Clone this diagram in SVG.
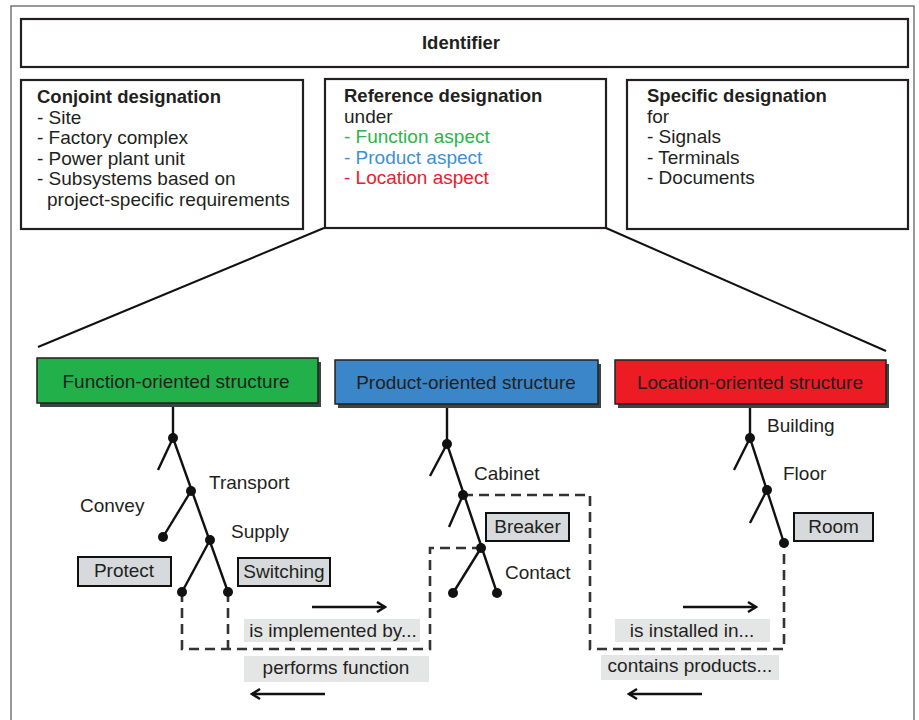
<svg xmlns="http://www.w3.org/2000/svg" width="919" height="720" viewBox="0 0 919 720">
<style>
text{font-family:"Liberation Sans",Arial,sans-serif;font-size:19px;fill:#231f20}
.b{font-weight:bold;font-size:18.5px}
.box{fill:#fff;stroke:#231f20;stroke-width:2.2}
.sb{stroke:#231f20;stroke-width:1.5}
.sh{fill:#3c4446}
.tree{stroke:#111;stroke-width:2.4;fill:none}
.dot{fill:#111}
.nb{fill:#d6dadc;stroke:#111;stroke-width:2}
.lb{fill:#e4e6e6}
.dash{stroke:#333;stroke-width:2.6;fill:none;stroke-dasharray:10 6}
.arr{stroke:#111;stroke-width:2.6;fill:none}
.c{text-anchor:middle}
</style>
<defs>
<marker id="ah" viewBox="0 0 12 12" refX="10" refY="6" markerWidth="12" markerHeight="12" markerUnits="userSpaceOnUse" orient="auto">
<polyline points="2,1 10,6 2,11" fill="none" stroke="#111" stroke-width="2.4"/>
</marker>
</defs>
<rect width="919" height="720" fill="#fff"/>
<rect x="11" y="6" width="903" height="720" fill="none" stroke="#555" stroke-width="1.2"/>

<g id="identifier">
<rect class="box" x="21" y="19" width="887" height="48"/>
<text class="b c" x="461" y="49">Identifier</text>
</g>
<g id="conjoint">
<rect class="box" x="21" y="80" width="282" height="149"/>
<text class="b" x="37" y="103">Conjoint designation</text>
<text x="37" y="123.5">- Site</text>
<text x="37" y="144">- Factory complex</text>
<text x="37" y="164.5">- Power plant unit</text>
<text x="37" y="185">- Subsystems based on</text>
<text x="47" y="205.5">project-specific requirements</text>
</g>
<g id="reference">
<rect class="box" x="325" y="79" width="281" height="149"/>
<text class="b" x="344" y="102">Reference designation</text>
<text x="344" y="122.5">under</text>
<text x="344" y="143" style="fill:#2db34a">- Function aspect</text>
<text x="344" y="163.5" style="fill:#3d8fd6">- Product aspect</text>
<text x="344" y="184" style="fill:#e8202a">- Location aspect</text>
</g>
<g id="specific">
<rect class="box" x="627" y="80" width="281" height="149"/>
<text class="b" x="647" y="102">Specific designation</text>
<text x="647" y="122.5">for</text>
<text x="647" y="143">- Signals</text>
<text x="647" y="163.5">- Terminals</text>
<text x="647" y="184">- Documents</text>
</g>

<g id="connectors">
<line x1="324" y1="228" x2="38" y2="347" stroke="#111" stroke-width="2"/>
<line x1="606" y1="228" x2="886" y2="351" stroke="#111" stroke-width="2"/>
<polyline class="tree" points="173,403 173,438 228,592"/>
<line class="tree" x1="173" y1="438" x2="158" y2="470"/>
<line class="tree" x1="191" y1="491" x2="163" y2="537"/>
<line class="tree" x1="210" y1="540" x2="182" y2="592"/>
<polyline class="tree" points="447,404 447,444 497,593"/>
<line class="tree" x1="447" y1="444" x2="430" y2="476"/>
<line class="tree" x1="463" y1="495" x2="449" y2="527"/>
<line class="tree" x1="481" y1="548" x2="453" y2="593"/>
<polyline class="tree" points="750,404 750,438 784,543"/>
<line class="tree" x1="750" y1="438" x2="734" y2="470"/>
<line class="tree" x1="767" y1="490" x2="750" y2="523"/>
<polyline class="dash" points="182,592 182,649 430,649 430,548 481,548"/>
<line class="dash" x1="228" y1="592" x2="228" y2="649"/>
<polyline class="dash" points="463,495 590,495 590,649 784,649 784,543"/>
<line class="arr" x1="312" y1="607" x2="385" y2="607" marker-end="url(#ah)"/>
<line class="arr" x1="325" y1="694" x2="252" y2="694" marker-end="url(#ah)"/>
<line class="arr" x1="683" y1="607" x2="756" y2="607" marker-end="url(#ah)"/>
<line class="arr" x1="702" y1="694" x2="629" y2="694" marker-end="url(#ah)"/>
</g>

<g id="dots">
<circle class="dot" cx="173" cy="438" r="5"/>
<circle class="dot" cx="191" cy="491" r="5"/>
<circle class="dot" cx="163" cy="537" r="5"/>
<circle class="dot" cx="210" cy="540" r="5"/>
<circle class="dot" cx="182" cy="592" r="5"/>
<circle class="dot" cx="228" cy="592" r="5"/>
<circle class="dot" cx="447" cy="444" r="5"/>
<circle class="dot" cx="463" cy="495" r="5"/>
<circle class="dot" cx="481" cy="548" r="5"/>
<circle class="dot" cx="453" cy="593" r="5"/>
<circle class="dot" cx="497" cy="593" r="5"/>
<circle class="dot" cx="750" cy="438" r="5"/>
<circle class="dot" cx="767" cy="490" r="5"/>
<circle class="dot" cx="784" cy="543" r="5"/>
</g>

<g id="function-structure">
<rect class="sh" x="40" y="362" width="281" height="45"/>
<rect class="sb" x="37" y="358" width="281" height="45" fill="#22b04b"/>
<text class="c" x="176" y="388">Function-oriented structure</text>
</g>
<g id="product-structure">
<rect class="sh" x="338" y="364" width="263" height="44"/>
<rect class="sb" x="335" y="360" width="263" height="44" fill="#3a86c8"/>
<text class="c" x="466" y="389">Product-oriented structure</text>
</g>
<g id="location-structure">
<rect class="sh" x="618" y="364" width="271" height="44"/>
<rect class="sb" x="615" y="360" width="271" height="44" fill="#ed1c24"/>
<text class="c" x="750" y="389">Location-oriented structure</text>
</g>

<g id="transport"><text x="209" y="489">Transport</text></g>
<g id="convey"><text x="80" y="512">Convey</text></g>
<g id="supply"><text x="231" y="538">Supply</text></g>
<g id="protect"><rect class="nb" x="78" y="557" width="93" height="29"/><text class="c" x="124" y="577">Protect</text></g>
<g id="switching"><rect class="nb" x="238" y="558" width="92" height="28"/><text class="c" x="284" y="578">Switching</text></g>

<g id="cabinet"><text x="474" y="480">Cabinet</text></g>
<g id="breaker"><rect class="nb" x="486" y="513" width="83" height="28"/><text class="c" x="527.5" y="533">Breaker</text></g>
<g id="contact"><text x="505" y="579">Contact</text></g>

<g id="building"><text x="767" y="432">Building</text></g>
<g id="floor"><text x="783" y="480">Floor</text></g>
<g id="room"><rect class="nb" x="794" y="513" width="79" height="28"/><text class="c" x="833.5" y="533">Room</text></g>

<g id="is-implemented-by"><rect class="lb" x="244" y="619" width="176" height="23"/><text class="c" x="333" y="637">is implemented by...</text></g>
<g id="performs-function"><rect class="lb" x="244" y="656" width="185" height="26"/><text class="c" x="336" y="674">performs function</text></g>
<g id="is-installed-in"><rect class="lb" x="615" y="619" width="155" height="23"/><text class="c" x="692" y="637">is installed in...</text></g>
<g id="contains-products"><rect class="lb" x="601" y="655" width="178" height="25"/><text class="c" x="690" y="672">contains products...</text></g>
</svg>
